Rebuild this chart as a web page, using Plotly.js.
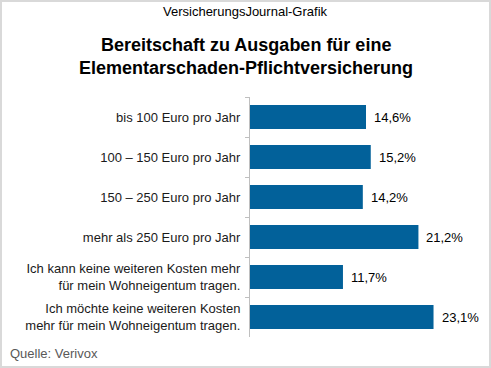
<!DOCTYPE html>
<html>
<head>
<meta charset="utf-8">
<script src="https://cdn.plot.ly/plotly-3.0.1.min.js"></script>
<style>
html,body{margin:0;padding:0;background:#fff;}
#wrap{position:relative;width:491px;height:368px;}
#chart{width:491px;height:368px;}
#frame{position:absolute;left:0;top:0;width:491px;height:368px;box-sizing:border-box;border:2px solid #d9d9d9;pointer-events:none;}
</style>
</head>
<body>
<div id="wrap"><div id="chart"></div><div id="frame"></div></div>
<script>
const categories = [
  "bis 100 Euro pro Jahr",
  "100 – 150 Euro pro Jahr",
  "150 – 250 Euro pro Jahr",
  "mehr als 250 Euro pro Jahr",
  "Ich kann keine weiteren Kosten mehr<br>für mein Wohneigentum tragen.",
  "Ich möchte keine weiteren Kosten<br>mehr für mein Wohneigentum tragen."
];
const values = [14.6, 15.2, 14.2, 21.2, 11.7, 23.1];
const valueLabels = ["14,6%", "15,2%", "14,2%", "21,2%", "11,7%", "23,1%"];
const topText = "VersicherungsJournal-Grafik";
const titleLines = ["Bereitschaft zu Ausgaben für eine", "Elementarschaden-Pflichtversicherung"];
const sourceText = "Quelle: Verivox";

const FONT = "Liberation Sans, Arial, sans-serif";
const barColor = "#02619a";

const trace = {
  type: "bar",
  orientation: "h",
  y: categories,
  x: values,
  width: 0.6,
  marker: {color: barColor},
  hoverinfo: "none"
};

const plotTop = 97, plotH = 240, plotLeft = 250, plotW = 230;
function py(yPix){ return 1 - (yPix - plotTop)/plotH; }
function px(xPix){ return (xPix - plotLeft)/plotW; }

const annotations = values.map((v, i) => ({
  x: v, y: categories[i], xref: "x", yref: "y",
  text: valueLabels[i], showarrow: false,
  xanchor: "left", yanchor: "middle", xshift: 6,
  font: {family: FONT, size: 13, color: "#000"}
}));

annotations.push({
  text: topText, xref: "paper", yref: "paper", x: px(245), y: py(12),
  showarrow: false, xanchor: "center", yanchor: "middle",
  font: {family: FONT, size: 13, color: "#000"}
});

titleLines.forEach((t, i) => {
  annotations.push({
    text: "<b>" + t + "</b>", xref: "paper", yref: "paper",
    x: px(246), y: py(45 + 23*i), showarrow: false,
    xanchor: "center", yanchor: "middle",
    font: {family: FONT, size: 18, color: "#000"}
  });
});

annotations.push({
  text: sourceText, xref: "paper", yref: "paper",
  x: px(8), y: py(353), showarrow: false,
  xanchor: "left", yanchor: "middle",
  font: {family: FONT, size: 13, color: "#595959"}
});

const layout = {
  width: 491, height: 368,
  margin: {l: plotLeft, r: 491 - plotLeft - plotW, t: plotTop, b: 368 - plotTop - plotH},
  paper_bgcolor: "#fff", plot_bgcolor: "#fff",
  showlegend: false,
  xaxis: {range: [0, plotW/7.945], visible: false, fixedrange: true},
  yaxis: {
    autorange: "reversed",
    showline: true, linecolor: "#bfbfbf", linewidth: 1,
    ticks: "outside", tickson: "boundaries", ticklen: 4, tickcolor: "#bfbfbf",
    ticklabelstandoff: 6,
    showgrid: false, zeroline: false,
    tickfont: {family: FONT, size: 13, color: "#1a1a1a"}
  },
  annotations: annotations
};

Plotly.newPlot("chart", [trace], layout, {displayModeBar: false, staticPlot: true});
</script>
</body>
</html>
